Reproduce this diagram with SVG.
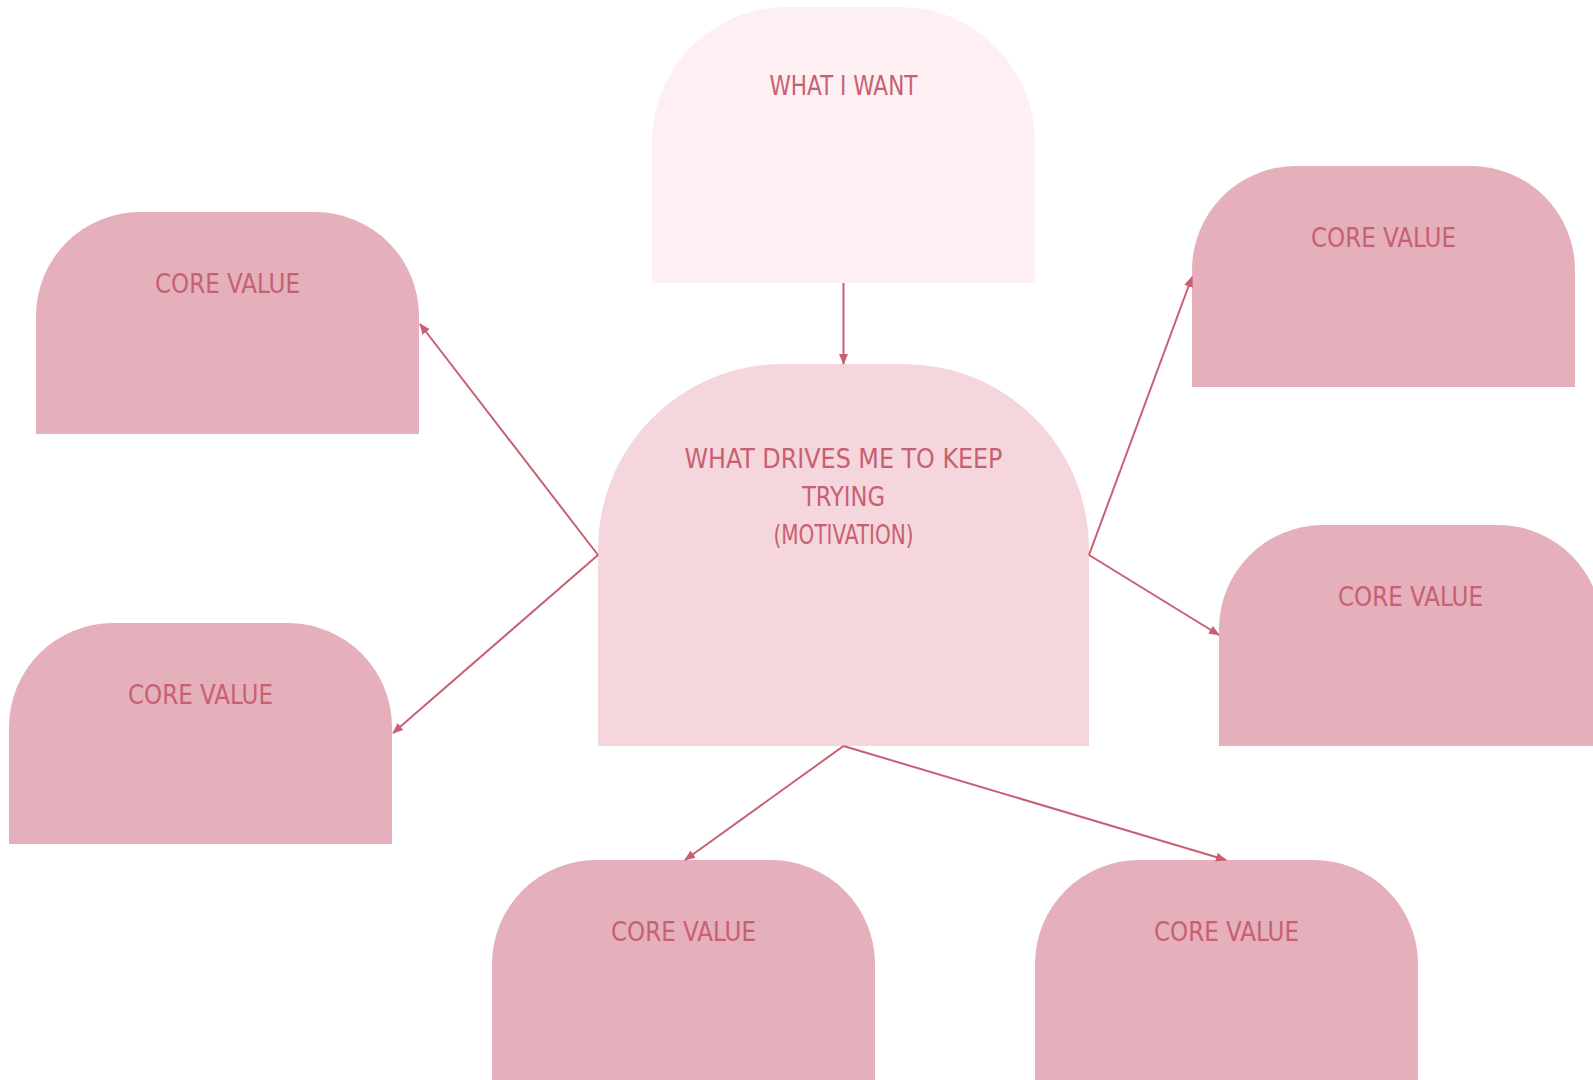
<svg xmlns="http://www.w3.org/2000/svg" width="1593" height="1080" viewBox="0 0 1593 1080">
<defs>
<style>
.top{fill:#feeff2}
.center{fill:#f4d6dc}
.core{fill:#e5afbb}
.lbl{fill:#c86073;font-family:"Liberation Sans Narrow","DejaVu Sans Condensed","Liberation Sans",sans-serif;font-size:27px;text-anchor:middle}
.conn{stroke:#c85f72;stroke-width:2;fill:none;marker-end:url(#ah)}
</style>
<marker id="ah" markerUnits="userSpaceOnUse" markerWidth="11" markerHeight="9" refX="10" refY="4.5" orient="auto">
<path d="M0,0 L11,4.5 L0,9 Z" fill="#c85f72"/>
</marker>
</defs>
<rect width="1593" height="1080" fill="#ffffff"/>
<g id="node-want">
<path class="top" d="M652,283 V142 A135,135 0 0 1 787,7 H900 A135,135 0 0 1 1035,142 V283 Z"/>
<text class="lbl" x="843.5" y="95" textLength="148" lengthAdjust="spacingAndGlyphs">WHAT I WANT</text>
</g>
<g id="node-motivation">
<path class="center" d="M598,746 V549 A185,185 0 0 1 783,364 H904 A185,185 0 0 1 1089,549 V746 Z"/>
<text class="lbl" x="843.5" y="468" textLength="318" lengthAdjust="spacingAndGlyphs">WHAT DRIVES ME TO KEEP</text>
<text class="lbl" x="843.5" y="506" textLength="83" lengthAdjust="spacingAndGlyphs">TRYING</text>
<text class="lbl" x="843.5" y="544" textLength="140" lengthAdjust="spacingAndGlyphs">(MOTIVATION)</text>
</g>
<g id="node-core-lt">
<path class="core" d="M36,434 V316 A104,104 0 0 1 140,212 H315 A104,104 0 0 1 419,316 V434 Z"/>
<text class="lbl" x="227.5" y="293" textLength="145" lengthAdjust="spacingAndGlyphs">CORE VALUE</text>
</g>
<g id="node-core-lb">
<path class="core" d="M9,844 V727 A104,104 0 0 1 113,623 H288 A104,104 0 0 1 392,727 V844 Z"/>
<text class="lbl" x="200.5" y="704" textLength="145" lengthAdjust="spacingAndGlyphs">CORE VALUE</text>
</g>
<g id="node-core-rt">
<path class="core" d="M1192,387 V270 A104,104 0 0 1 1296,166 H1471 A104,104 0 0 1 1575,270 V387 Z"/>
<text class="lbl" x="1383.5" y="247" textLength="145" lengthAdjust="spacingAndGlyphs">CORE VALUE</text>
</g>
<g id="node-core-rm">
<path class="core" d="M1219,746 V629 A104,104 0 0 1 1323,525 H1498 A104,104 0 0 1 1602,629 V746 Z"/>
<text class="lbl" x="1410.5" y="606" textLength="145" lengthAdjust="spacingAndGlyphs">CORE VALUE</text>
</g>
<g id="node-core-bl">
<path class="core" d="M492,1082 V964 A104,104 0 0 1 596,860 H771 A104,104 0 0 1 875,964 V1082 Z"/>
<text class="lbl" x="683.5" y="941" textLength="145" lengthAdjust="spacingAndGlyphs">CORE VALUE</text>
</g>
<g id="node-core-br">
<path class="core" d="M1035,1082 V964 A104,104 0 0 1 1139,860 H1314 A104,104 0 0 1 1418,964 V1082 Z"/>
<text class="lbl" x="1226.5" y="941" textLength="145" lengthAdjust="spacingAndGlyphs">CORE VALUE</text>
</g>
<g id="connectors">
<line class="conn" x1="843.5" y1="283" x2="843.5" y2="364"/>
<line class="conn" x1="598" y1="555" x2="420" y2="324"/>
<line class="conn" x1="598" y1="555" x2="393" y2="733"/>
<line class="conn" x1="1089" y1="555" x2="1192" y2="277"/>
<line class="conn" x1="1089" y1="555" x2="1219" y2="635"/>
<line class="conn" x1="843.5" y1="746" x2="685" y2="860"/>
<line class="conn" x1="843.5" y1="746" x2="1226" y2="860"/>
</g>
</svg>
